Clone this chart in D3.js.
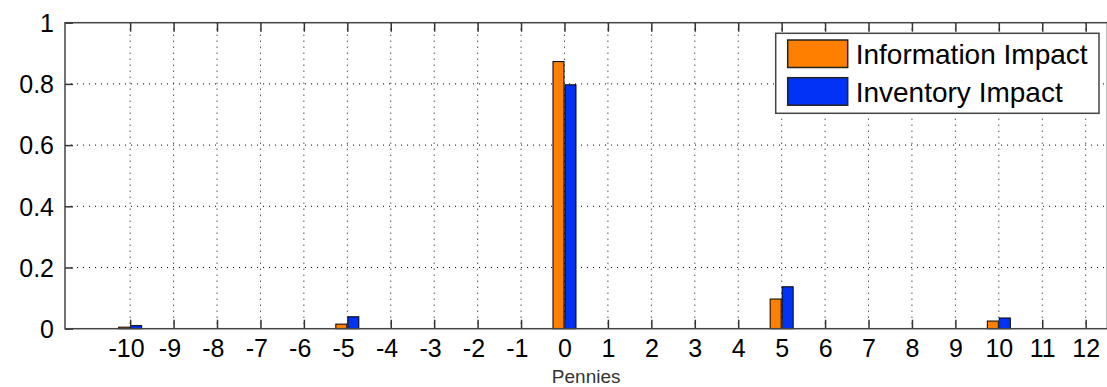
<!DOCTYPE html>
<html>
<head>
<meta charset="utf-8">
<script src="https://cdn.jsdelivr.net/npm/d3@7"></script>
<style>
  body { margin: 0; background: #fff; }
  svg { display: block; font-family: "Liberation Sans", Arial, sans-serif; }
</style>
</head>
<body>
<svg id="plot"></svg>
<script>
//Chart data
const pennies = [-10, -9, -8, -7, -6, -5, -4, -3, -2, -1, 0, 1, 2, 3, 4, 5, 6, 7, 8, 9, 10, 11, 12];
const informationImpact = [0.005, 0, 0, 0, 0, 0.015, 0, 0, 0, 0, 0.873, 0, 0, 0, 0, 0.097, 0, 0, 0, 0, 0.025, 0, 0];
const inventoryImpact   = [0.010, 0, 0, 0, 0, 0.039, 0, 0, 0, 0, 0.797, 0, 0, 0, 0, 0.137, 0, 0, 0, 0, 0.035, 0, 0];
const seriesNames = ["Information Impact", "Inventory Impact"];
const seriesColors = ["#ff8000", "#0033f5"];
const yTicks = [0, 0.2, 0.4, 0.6, 0.8, 1];

//Size of the svg
const width = 1107;
const height = 387;
const plotLeft = 65, plotRight = 1107.4, plotTop = 22.7, plotBottom = 328.7;

const svg = d3.select('#plot')
    .attr('width', width)
    .attr('height', height);

//Scales
const x = d3.scaleLinear().domain([-11.5, 12.5]).range([plotLeft, plotRight]);
const y = d3.scaleLinear().domain([0, 1]).range([plotBottom, plotTop]);
const sub = d3.scaleBand().domain(seriesNames).range([-11.5, 11.5]).paddingInner(0.083);
const color = d3.scaleOrdinal().domain(seriesNames).range(seriesColors);

const rows = pennies.map((p, i) => ({p: p, values: [informationImpact[i], inventoryImpact[i]]}));

//Dotted grid
const grid = svg.append('g')
    .attr('stroke', '#000')
    .attr('stroke-width', 1)
    .attr('stroke-dasharray', '1,5');

grid.selectAll('.vgrid')
    .data(pennies)
    .enter()
    .append('line')
    .attr('x1', d => x(d)).attr('x2', d => x(d))
    .attr('y1', plotTop).attr('y2', plotBottom);

grid.selectAll('.hgrid')
    .data(yTicks.slice(1, -1))
    .enter()
    .append('line')
    .attr('x1', plotLeft).attr('x2', plotRight)
    .attr('y1', d => y(d)).attr('y2', d => y(d));

//Bars
const groups = svg.selectAll('.group')
    .data(rows)
    .enter()
    .append('g')
    .attr('transform', d => `translate(${x(d.p)},0)`);

groups.selectAll('rect')
    .data(d => d.values.map((v, i) => ({name: seriesNames[i], value: v})).filter(b => b.value > 0))
    .enter()
    .append('rect')
    .attr('x', d => sub(d.name))
    .attr('width', sub.bandwidth())
    .attr('y', d => y(d.value))
    .attr('height', d => y(0) - y(d.value))
    .attr('fill', d => color(d.name))
    .attr('stroke', '#000')
    .attr('stroke-width', 1);

//Axes
const xAxis = svg.append('g')
    .attr('transform', `translate(0,${plotBottom})`)
    .call(d3.axisBottom(x).tickValues(pennies).tickSizeInner(-9).tickSizeOuter(0)
        .tickPadding(11).tickFormat(d => Math.abs(d)));

xAxis.selectAll('text').attr('font-size', 25).attr('fill', '#000');

//Minus sign hangs to the left of the centred digits
xAxis.selectAll('.tick').filter(d => d < 0).each(function() {
    const t = d3.select(this).select('text');
    const w = t.node().getComputedTextLength();
    d3.select(this).append('text')
        .attr('x', -w / 2)
        .attr('y', t.attr('y'))
        .attr('dy', t.attr('dy'))
        .attr('text-anchor', 'end')
        .attr('font-size', 25)
        .attr('fill', '#000')
        .text('-');
});

svg.append('g')
    .attr('transform', `translate(0,${plotTop})`)
    .call(d3.axisTop(x).tickValues(pennies).tickSizeInner(-9).tickSizeOuter(0).tickFormat(''));

const yAxis = svg.append('g')
    .attr('transform', `translate(${plotLeft},0)`)
    .call(d3.axisLeft(y).tickValues(yTicks).tickSizeInner(-8).tickSizeOuter(0)
        .tickPadding(11).tickFormat(d => d));

yAxis.selectAll('text').attr('font-size', 25).attr('fill', '#000').attr('dy', '0.35em');

svg.selectAll('.domain').remove();
svg.selectAll('g').attr('font-family', null);
svg.selectAll('.tick line').attr('stroke', '#333').attr('stroke-width', 1.5);

//Axes box
svg.append('rect')
    .attr('x', plotLeft).attr('y', plotTop)
    .attr('width', plotRight - plotLeft).attr('height', plotBottom - plotTop)
    .attr('fill', 'none')
    .attr('stroke', '#444')
    .attr('stroke-width', 1.5);

//X label
svg.append('text')
    .attr('x', (plotLeft + plotRight) / 2)
    .attr('y', 383)
    .attr('text-anchor', 'middle')
    .attr('font-size', 19)
    .attr('fill', '#333')
    .text('Pennies');

//Legend
const legend = svg.append('g');
legend.append('rect')
    .attr('x', 775.7).attr('y', 33.3)
    .attr('width', 323.3).attr('height', 80)
    .attr('fill', '#fff')
    .attr('stroke', '#444')
    .attr('stroke-width', 1.5);

const item = legend.selectAll('.item')
    .data(seriesNames)
    .enter()
    .append('g')
    .attr('transform', (d, i) => `translate(787.7,${40 + 37.7 * i})`);

item.append('rect')
    .attr('width', 60).attr('height', 27.5)
    .attr('fill', d => color(d))
    .attr('stroke', '#222')
    .attr('stroke-width', 1.5);

item.append('text')
    .attr('x', 68)
    .attr('y', 14)
    .attr('dy', '0.35em')
    .attr('font-size', 28)
    .attr('fill', '#000')
    .text(d => d);
</script>
</body>
</html>
